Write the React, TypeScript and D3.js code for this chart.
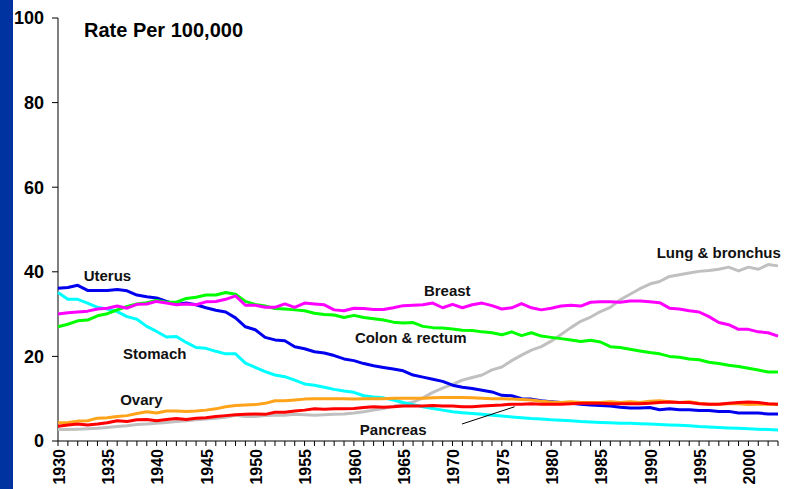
import { useEffect, useRef } from 'react';
import * as d3 from 'd3';

// years 1930..2003
const years = d3.range(1930, 2004);

const uterus = [
  36.1, 36.3, 36.8, 35.6, 35.6, 35.6, 35.8, 35.5, 34.5, 34.1, 33.8, 33.0, 32.3, 32.6, 32.2, 31.5, 30.9, 30.5, 29.1, 27.0, 26.3, 24.5, 23.9, 23.7, 22.3, 21.8,
  21.1, 20.8, 20.2, 19.4, 19.0, 18.3, 17.8, 17.4, 17.0, 16.6, 15.6, 15.1, 14.6, 14.1, 13.2, 12.7, 12.4, 12.0, 11.6, 10.8, 10.7, 10.0, 9.9, 9.5, 9.3,
  9.1, 8.9, 8.7, 8.5, 8.4, 8.3, 8.0, 7.8, 7.8, 7.9, 7.4, 7.6, 7.4, 7.4, 7.2, 7.2, 7.0, 7.0, 6.6, 6.6, 6.6, 6.4, 6.4,
];
const stomach = [
  35.1, 33.5, 33.5, 32.6, 31.6, 31.2, 30.6, 29.4, 28.8, 27.1, 25.9, 24.6, 24.7, 23.3, 22.1, 21.9, 21.2, 20.6, 20.6, 18.4, 17.4, 16.4, 15.6, 15.2, 14.4, 13.5,
  13.2, 12.7, 12.2, 11.8, 11.5, 10.7, 10.4, 10.2, 9.7,
  9.1, 8.6, 8.1, 7.7, 7.3, 6.9, 6.7, 6.5, 6.3, 6.1, 5.9, 5.7, 5.5, 5.3, 5.2, 5.0, 4.9, 4.8, 4.6, 4.5, 4.4, 4.3, 4.2, 4.2, 4.1, 4.0, 3.9, 3.8, 3.7, 3.6, 3.4, 3.3, 3.2, 3.1, 3.0, 2.9, 2.8, 2.7, 2.6,
];
const breast = [
  30.0, 30.3, 30.5, 30.7, 31.2, 31.4, 31.9, 31.4, 32.3, 32.4, 33.0, 32.6, 32.2, 32.4, 32.2, 32.9, 33.0, 33.5, 34.3, 32.1, 32.1, 31.6, 31.6, 32.4, 31.6, 32.6,
  32.4, 32.2, 31.0, 30.8, 31.4, 31.3, 31.1, 31.1, 31.5, 32.0, 32.1, 32.2, 32.6, 31.5, 32.3, 31.5, 32.2, 32.6, 32.0, 31.2, 31.5, 32.5, 31.5,
  31.0, 31.4, 31.9, 32.1, 31.9, 32.8, 32.9, 32.9, 32.8, 33.1, 33.1, 32.9, 32.7, 31.4, 31.2, 30.8, 30.5, 29.4, 28.0, 27.5, 26.4, 26.4, 25.8, 25.6, 24.8,
];
const colon = [
  27.0, 27.6, 28.4, 28.6, 29.6, 30.1, 31.0, 31.8, 32.4, 32.7, 33.2, 32.8, 32.8, 33.7, 34.0, 34.5, 34.5, 35.1, 34.7, 33.0, 32.3, 31.9, 31.3, 31.2, 31.0, 30.8,
  30.2, 29.9, 29.8, 29.2, 29.7, 29.2, 28.9, 28.6, 28.1, 27.9, 28.0, 27.1, 26.8, 26.7, 26.5, 26.2, 26.1, 25.8, 25.6, 25.1, 25.8, 24.9, 25.6,
  24.8, 24.5, 24.2, 23.9, 23.5, 23.8, 23.4, 22.3, 22.1, 21.7, 21.3, 20.9, 20.6, 20.0, 19.8, 19.4, 19.2, 18.6, 18.3, 17.9, 17.6, 17.2, 16.8, 16.3, 16.3,
];
const lung = [
  2.7, 2.7, 2.8, 2.9, 3.0, 3.2, 3.4, 3.6, 3.9, 4.0, 4.2, 4.4, 4.6, 4.8, 5.0, 5.2, 5.4, 5.6, 6.1, 5.8, 5.8, 6.0, 6.1, 6.1, 6.3, 6.2,
  6.1, 6.2, 6.3, 6.4,
  6.6, 6.9, 7.3, 7.7, 8.2, 8.7, 9.2, 10.2, 11.5, 12.5, 13.4, 14.4, 15.0, 15.6, 16.8, 17.5, 19.0, 20.3, 21.5, 22.3, 23.6, 25.2, 26.8, 28.3, 29.3, 30.6, 31.6, 33.4, 34.7, 36.0, 37.1, 37.7, 38.9, 39.3, 39.7, 40.1, 40.3, 40.6, 41.1, 40.2, 41.1, 40.6, 41.7, 41.4,
];
const ovary = [
  4.3, 4.4, 4.7, 4.8, 5.4, 5.5, 5.8, 6.0, 6.5, 6.9, 6.6, 7.1, 7.1, 7.0, 7.1, 7.3, 7.6, 8.1, 8.4, 8.5, 8.6, 8.9, 9.5, 9.5, 9.7, 9.9,
  10.0, 10.0, 10.0, 10.0, 9.9, 10.0, 10.0, 10.0, 10.1, 10.1, 10.1, 10.1, 10.2, 10.3, 10.3, 10.3, 10.2, 10.1, 10.0, 10.0, 9.9, 9.8, 9.7,
  9.4, 9.2, 9.1, 9.3, 9.1, 9.1, 9.1, 9.3, 9.1, 9.3, 9.1, 9.4, 9.5, 9.3, 9.1, 9.3, 8.9, 8.7, 8.7, 8.8, 8.8, 8.6, 8.7, 8.7, 8.7,
];
const pancreas = [
  3.5, 3.8, 4.0, 3.8, 4.0, 4.3, 4.8, 4.6, 5.0, 5.1, 4.8, 5.1, 5.3, 5.1, 5.4, 5.5, 5.8, 6.0, 6.2, 6.3, 6.4, 6.3, 6.8, 6.8, 7.1, 7.3,
  7.6, 7.5, 7.6, 7.6, 7.7, 7.9, 8.1, 8.0, 8.1, 8.3, 8.3, 8.3, 8.4, 8.3, 8.3, 8.1, 8.1, 8.3, 8.4, 8.5, 8.7, 8.7, 8.8,
  8.7, 8.7, 8.7, 8.8, 8.9, 8.9, 8.9, 8.8, 8.8, 8.8, 8.8, 8.9, 9.1, 9.2, 9.1, 9.1, 8.8, 8.7, 8.7, 8.9, 9.1, 9.2, 9.1, 8.8, 8.7,
];

// draw order: first drawn sits underneath
const series = [
  { name: 'Lung & bronchus', values: lung, color: '#c0c0c0' },
  { name: 'Stomach', values: stomach, color: '#00ffff' },
  { name: 'Uterus', values: uterus, color: '#0000ee' },
  { name: 'Colon & rectum', values: colon, color: '#00ff00' },
  { name: 'Breast', values: breast, color: '#ff00ff' },
  { name: 'Ovary', values: ovary, color: '#ffa31a' },
  { name: 'Pancreas', values: pancreas, color: '#ff0000' },
];

const yTicks = [0, 20, 40, 60, 80, 100];
const yearLabels = d3.range(1930, 2004, 5);

// label anchors in data space (year, rate)
const labels = [
  { text: 'Uterus', year: 1932.6, rate: 39.1 },
  { text: 'Stomach', year: 1936.6, rate: 20.6 },
  { text: 'Ovary', year: 1936.3, rate: 9.7 },
  { text: 'Breast', year: 1967.1, rate: 35.5 },
  { text: 'Colon & rectum', year: 1960.1, rate: 24.5 },
  { text: 'Lung & bronchus', year: 1990.7, rate: 44.5 },
  { text: 'Pancreas', year: 1960.6, rate: 2.6 },
];

export default function App() {
  const svgRef = useRef(null);
  const W = 786;
  const H = 489;

  useEffect(() => {
    const svg = d3.select(svgRef.current);
    svg.selectAll('*').remove();

    const x = d3.scaleLinear().domain([1930, 2003]).range([58, 778]);
    const y = d3.scaleLinear().domain([0, 100]).range([441, 18]);

    svg.append('rect').attr('width', W).attr('height', H).attr('fill', '#fff');
    // blue strip on the left edge
    svg.append('rect').attr('x', 0).attr('y', 0).attr('width', 13).attr('height', H).attr('fill', '#0033a0');

    const font = 'Arial, "Liberation Sans", Helvetica, sans-serif';

    // y axis
    const yAxis = svg.append('g');
    yAxis.append('line')
      .attr('x1', x(1930)).attr('x2', x(1930))
      .attr('y1', y(100)).attr('y2', y(0))
      .attr('stroke', '#000').attr('stroke-width', 1);
    yAxis.selectAll('line.tick')
      .data(yTicks)
      .join('line')
      .attr('class', 'tick')
      .attr('x1', x(1930) - 6).attr('x2', x(1930))
      .attr('y1', d => y(d)).attr('y2', d => y(d))
      .attr('stroke', '#000');
    yAxis.selectAll('text')
      .data(yTicks)
      .join('text')
      .attr('x', 44)
      .attr('y', d => y(d))
      .attr('dy', '0.36em')
      .attr('text-anchor', 'end')
      .style('font-family', font)
      .style('font-weight', 'bold')
      .style('font-size', '18px')
      .text(d => d);

    // x axis
    const xAxis = svg.append('g');
    xAxis.append('line')
      .attr('x1', x(1930)).attr('x2', x(2003))
      .attr('y1', y(0)).attr('y2', y(0))
      .attr('stroke', '#000');
    xAxis.selectAll('line.tick')
      .data(years)
      .join('line')
      .attr('class', 'tick')
      .attr('x1', d => x(d)).attr('x2', d => x(d))
      .attr('y1', y(0)).attr('y2', y(0) + 5)
      .attr('stroke', '#000');
    xAxis.selectAll('text')
      .data(yearLabels)
      .join('text')
      .attr('transform', d => `translate(${x(d) + 1}, ${y(0) + 8}) rotate(-90)`)
      .attr('dy', '0.36em')
      .attr('text-anchor', 'end')
      .style('font-family', font)
      .style('font-weight', 'bold')
      .style('font-size', '16px')
      .text(d => d);

    // lines
    const line = d3.line()
      .x((d, i) => x(years[i]))
      .y(d => y(d));
    svg.append('g')
      .selectAll('path')
      .data(series)
      .join('path')
      .attr('d', d => line(d.values))
      .attr('fill', 'none')
      .attr('stroke', d => d.color)
      .attr('stroke-width', 3)
      .attr('stroke-linejoin', 'round');

    // pancreas leader line
    svg.append('line')
      .attr('x1', 462).attr('y1', 424)
      .attr('x2', x(1976.3)).attr('y2', y(8.1))
      .attr('stroke', '#000').attr('stroke-width', 1);

    // series labels
    svg.append('g')
      .selectAll('text')
      .data(labels)
      .join('text')
      .attr('x', d => x(d.year))
      .attr('y', d => y(d.rate))
      .attr('dy', '0.36em')
      .style('font-family', font)
      .style('font-weight', 'bold')
      .style('font-size', '15px')
      .style('fill', '#111')
      .text(d => d.text);

    svg.append('text')
      .attr('x', 84)
      .attr('y', 30)
      .attr('dy', '0.36em')
      .style('font-family', font)
      .style('font-weight', 'bold')
      .style('font-size', '20px')
      .text('Rate Per 100,000');
  }, []);

  return (
    <div style={{ position: 'absolute', left: 0, top: 0 }}>
      <svg ref={svgRef} width={W} height={H} style={{ display: 'block' }} />
    </div>
  );
}
